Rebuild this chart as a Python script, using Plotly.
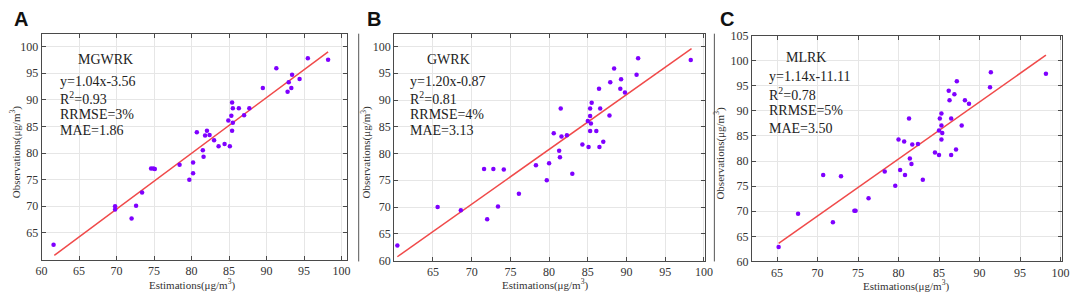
import plotly.graph_objects as go

W, H = 1079, 298

# ---------------- data ----------------
# Panel A: MGWRK
a_est = [98.2, 95.5, 91.3, 89.5, 93.4, 94.4, 92.95, 93.3, 92.8, 85.4, 85.5, 86.3, 87.7, 87.0,
         85.3, 84.9, 85.5, 85.4, 80.7, 82.05, 81.8, 82.4, 83.0, 83.6, 84.4, 85.1, 81.5, 81.6,
         80.2, 80.2, 79.7, 78.4, 74.6, 74.9, 75.1, 73.4, 72.6, 72.0, 69.8, 69.8, 61.6]
a_obs = [97.5, 97.8, 95.9, 92.2, 94.7, 93.9, 93.3, 92.2, 91.5, 89.5, 88.4, 88.4, 88.4, 87.1,
         87.0, 86.1, 85.7, 84.2, 83.9, 84.2, 83.3, 83.4, 82.4, 81.25, 81.7, 81.25, 80.5, 79.3,
         78.2, 76.2, 75.0, 77.8, 77.1, 77.1, 77.0, 72.6, 70.1, 67.7, 70.0, 69.4, 62.8]
a_fit_x = [61.7, 98.2]
a_fit_y = [60.8, 99.0]

# Panel B: GWRK
b_est = [98.3, 91.5, 91.3, 88.4, 87.9, 89.3, 89.2, 89.8, 86.45, 87.8, 86.6, 85.5, 85.3, 85.3,
         85.0, 85.4, 85.3, 86.1, 81.5, 80.6, 81.6, 82.3, 84.3, 85.1, 86.5, 87.0, 81.3, 81.4,
         80.0, 78.3, 79.7, 83.0, 76.1, 71.6, 72.8, 74.15, 73.4, 72.0, 68.6, 65.6, 60.4]
b_obs = [97.5, 97.8, 94.7, 95.9, 93.3, 93.9, 92.1, 91.4, 92.1, 87.1, 88.4, 89.5, 88.4, 87.0,
         86.1, 85.6, 84.2, 84.2, 88.4, 83.8, 83.2, 83.4, 81.7, 81.2, 81.2, 82.2, 80.5, 79.3,
         78.2, 77.8, 75.0, 76.2, 72.5, 77.1, 77.1, 77.0, 70.1, 67.7, 69.4, 70.0, 62.8]
b_fit_x = [60.4, 98.4]
b_fit_y = [60.7, 99.6]

# Panel C: MLRK
c_est = [98.2, 91.4, 91.3, 87.2, 86.2, 86.9, 86.3, 88.2, 88.7, 85.3, 85.1, 86.5, 81.3, 85.3,
         87.8, 85.0, 85.4, 85.3, 80.0, 80.7, 81.7, 82.4, 87.1, 84.5, 85.0, 86.5, 81.4, 81.6,
         80.2, 80.8, 78.3, 79.6, 83.0, 76.3, 70.7, 72.9, 74.55, 74.7, 71.9, 67.6, 65.2]
c_obs = [97.4, 97.7, 94.7, 95.9, 94.0, 93.3, 92.1, 92.1, 91.4, 89.5, 88.5, 88.5, 88.5, 87.1,
         87.1, 86.1, 85.6, 84.3, 84.3, 83.9, 83.3, 83.4, 82.3, 81.7, 81.2, 81.2, 80.5, 79.4,
         78.2, 77.2, 77.9, 75.1, 76.3, 72.6, 77.2, 77.0, 70.1, 70.1, 67.8, 69.5, 62.9]
c_fit_x = [65.2, 98.2]
c_fit_y = [63.6, 101.1]

panel_letters = ["A", "B", "C"]
model_names = ["MGWRK", "GWRK", "MLRK"]
equations = ["y=1.04x-3.56", "y=1.20x-0.87", "y=1.14x-11.11"]
r2_values = ["0.93", "0.81", "0.78"]
rrmse_values = ["3%", "4%", "5%"]
mae_values = ["1.86", "3.13", "3.50"]

x_ticks = [[60, 65, 70, 75, 80, 85, 90, 95, 100],
           [65, 70, 75, 80, 85, 90, 95, 100],
           [65, 70, 75, 80, 85, 90, 95, 100]]
y_ticks = [[65, 70, 75, 80, 85, 90, 95, 100],
           [60, 65, 70, 75, 80, 85, 90, 95, 100],
           [60, 65, 70, 75, 80, 85, 90, 95, 100, 105]]
x_ranges = [[60, 100.7], [60, 100.2], [61.9, 100.2]]
y_ranges = [[60, 102.4], [60, 102.4], [60, 105]]

# ---------------- layout helpers ----------------
def px(x):
    return x / W

def py(y):
    return 1 - y / H

# plot boxes in pixels: (left, right, top, bottom)
boxes = [(36, 345, 28, 265), (393, 708, 28, 266), (755, 1069, 30, 267)]

SERIF = "Liberation Serif, Times New Roman, serif"
DOT = "#7f00ff"
LINE = "#f04a4a"
FRAME = "#4a4a4a"
GRID = "#e6e6e6"

fig = go.Figure()
series = [(a_est, a_obs, a_fit_x, a_fit_y), (b_est, b_obs, b_fit_x, b_fit_y),
          (c_est, c_obs, c_fit_x, c_fit_y)]

for i, (ex, ob, fx, fy) in enumerate(series):
    n = "" if i == 0 else str(i + 1)
    fig.add_trace(go.Scatter(x=fx, y=fy, mode="lines", line=dict(color=LINE, width=1.5),
                             xaxis="x" + n, yaxis="y" + n, showlegend=False, hoverinfo="skip"))
    fig.add_trace(go.Scatter(x=ex, y=ob, mode="markers",
                             marker=dict(color=DOT, size=4.5), xaxis="x" + n, yaxis="y" + n,
                             showlegend=False))
    l, r, t, b = boxes[i]
    axcommon = dict(showline=True, linecolor=FRAME, linewidth=1, mirror="ticks",
                    ticks="inside", ticklen=4, tickcolor=FRAME, showgrid=True,
                    gridcolor=GRID, gridwidth=1, zeroline=False,
                    tickfont=dict(family=SERIF, size=12, color="#333"))
    fig.layout["xaxis" + n] = dict(domain=[px(l), px(r)], range=x_ranges[i],
                                   tickvals=x_ticks[i], anchor="y" + n,
                                   ticklabelstandoff=0, **axcommon)
    fig.layout["yaxis" + n] = dict(domain=[py(b), py(t)], range=y_ranges[i],
                                   tickvals=y_ticks[i], anchor="x" + n, **axcommon)

anns = []
letter_x = [6, 363, 721]
ytitle_x = [10, 365, 722]
xtitle_cx = [188, 546, 911]
xtitle_y = [291, 291, 292]
text_left = [53, 407, 770]
name_left = [71, 424, 787]
text_rows = [[55, 78, 96, 113, 130], [55, 78, 96, 113, 130], [53, 73, 91, 109, 127]]

for i in range(3):
    l, r, t, b = boxes[i]
    anns.append(dict(x=px(letter_x[i]), y=py(13), xref="paper", yref="paper",
                     text="<b>%s</b>" % panel_letters[i], showarrow=False,
                     xanchor="left", yanchor="middle",
                     font=dict(family="Liberation Sans, Arial, sans-serif", size=20, color="#111")))
    anns.append(dict(x=px(ytitle_x[i]), y=py((t + b) / 2 + 5), xref="paper", yref="paper",
                     text="Observations(μg/m<sup>3</sup>)", textangle=-90, showarrow=False,
                     xanchor="center", yanchor="middle",
                     font=dict(family=SERIF, size=11, color="#333")))
    anns.append(dict(x=px(xtitle_cx[i]), y=py(xtitle_y[i]), xref="paper", yref="paper",
                     text="Estimations(μg/m<sup>3</sup>)", showarrow=False,
                     xanchor="center", yanchor="middle",
                     font=dict(family=SERIF, size=11, color="#333")))
    rows = text_rows[i]
    lines = [(name_left[i], rows[0], model_names[i]),
             (text_left[i], rows[1], equations[i]),
             (text_left[i], rows[2], "R<sup>2</sup>=" + r2_values[i]),
             (text_left[i], rows[3], "RRMSE=" + rrmse_values[i]),
             (text_left[i], rows[4], "MAE=" + mae_values[i])]
    for (xx, yy, txt) in lines:
        anns.append(dict(x=px(xx), y=py(yy), xref="paper", yref="paper", text=txt,
                         showarrow=False, xanchor="left", yanchor="middle",
                         font=dict(family=SERIF, size=14, color="#222")))

shapes = []
for sx in [357, 717]:
    shapes.append(dict(type="line", xref="paper", yref="paper", x0=px(sx), x1=px(sx),
                       y0=py(267), y1=py(28), line=dict(color="#555", width=1)))

fig.update_layout(width=W, height=H, margin=dict(l=0, r=0, t=0, b=0),
                  paper_bgcolor="white", plot_bgcolor="white",
                  annotations=anns, shapes=shapes)

fig.write_html("out.html", config={"displayModeBar": False},
               post_script="document.body.style.margin='0';document.body.style.overflow='hidden';")
